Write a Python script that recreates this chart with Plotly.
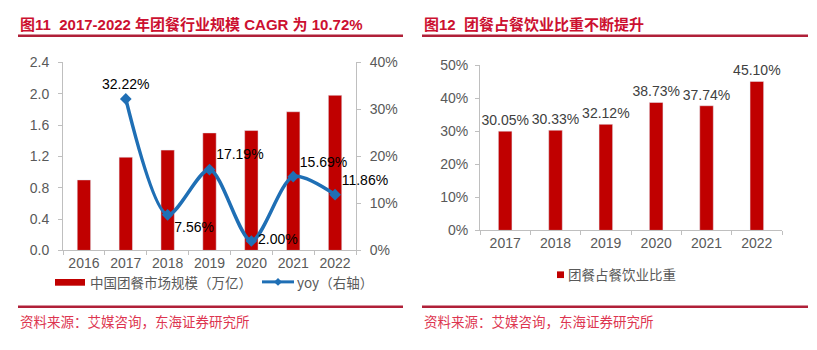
import plotly.graph_objects as go

# ---- Data ----
years_left = ["2016", "2017", "2018", "2019", "2020", "2021", "2022"]
market_size = [0.90, 1.19, 1.28, 1.50, 1.53, 1.77, 1.98]
yoy_years = ["2017", "2018", "2019", "2020", "2021", "2022"]
yoy = [0.3222, 0.0756, 0.1719, 0.0200, 0.1569, 0.1186]
yoy_labels = ["32.22%", "7.56%", "17.19%", "2.00%", "15.69%", "11.86%"]
yoy_textpos = ["top center", "bottom right", "top right", "middle right", "top right", "top right"]

years_right = ["2017", "2018", "2019", "2020", "2021", "2022"]
share = [0.3005, 0.3033, 0.3212, 0.3873, 0.3774, 0.4510]
share_labels = ["30.05%", "30.33%", "32.12%", "38.73%", "37.74%", "45.10%"]

left_ticks = [0, 0.4, 0.8, 1.2, 1.6, 2.0, 2.4]
left_ticktext = ["0.0", "0.4", "0.8", "1.2", "1.6", "2.0", "2.4"]
right_ticks = [0, 0.1, 0.2, 0.3, 0.4]
right_ticktext = ["0%", "10%", "20%", "30%", "40%"]
share_ticks = [0, 0.1, 0.2, 0.3, 0.4, 0.5]
share_ticktext = ["0%", "10%", "20%", "30%", "40%", "50%"]

title_left = "图11  2017-2022 年团餐行业规模 CAGR 为 10.72%"
title_right = "图12  团餐占餐饮业比重不断提升"
source_text = "资料来源：艾媒咨询，东海证券研究所"
legend_bar_left = "中国团餐市场规模（万亿）"
legend_line_left = "yoy（右轴）"
legend_right = "团餐占餐饮业比重"

# ---- Style ----
W, H = 817, 350
FONT = "Liberation Sans, Arial, Noto Sans CJK SC, sans-serif"
CJK = "Noto Sans CJK SC, Liberation Sans, sans-serif"
BAR = "#C00000"
BLUE = "#1F6FB5"
GRAY = "#595959"
AXIS = "#BFBFBF"
TITLE_RED = "#CC1030"
LINE_RED = "#B02038"
SRC_RED = "#DD3550"

def px(x):
    return x / W

def py(y):
    return 1 - y / H

fig = go.Figure()

fig.add_trace(go.Bar(
    x=years_left, y=market_size, marker_color=BAR, width=0.32,
    xaxis="x", yaxis="y", showlegend=False, hoverinfo="skip"))

fig.add_trace(go.Scatter(
    x=yoy_years, y=yoy, mode="lines+markers+text",
    line=dict(color=BLUE, width=3.5, shape="spline", smoothing=0.8),
    marker=dict(symbol="diamond", size=9, color=BLUE),
    text=yoy_labels, textposition=yoy_textpos,
    textfont=dict(family=FONT, size=14, color="#000000"),
    xaxis="x", yaxis="y3", showlegend=False, cliponaxis=False))

fig.add_trace(go.Bar(
    x=years_right, y=share, marker_color=BAR, width=0.27,
    text=share_labels, textposition="outside", constraintext="none",
    textfont=dict(family=FONT, size=14, color="#404040"),
    xaxis="x2", yaxis="y2", showlegend=False, cliponaxis=False))

common_x = dict(type="category", showline=True, linecolor=AXIS, linewidth=1,
                ticks="outside", tickson="boundaries", ticklen=4, tickcolor=AXIS,
                tickfont=dict(family=FONT, size=14, color=GRAY), showgrid=False,
                zeroline=False, fixedrange=True)
common_y = dict(showline=True, linecolor=AXIS, linewidth=1, ticks="outside",
                ticklen=4, tickcolor=AXIS, tickfont=dict(family=FONT, size=14, color=GRAY),
                showgrid=False, zeroline=False, fixedrange=True)

fig.update_layout(
    width=W, height=H, margin=dict(l=0, r=0, t=0, b=0),
    paper_bgcolor="white", plot_bgcolor="white",
    bargap=0.5,
    xaxis=dict(domain=[px(63), px(356)], anchor="y", **common_x),
    yaxis=dict(domain=[py(254), py(57)], range=[0, 2.4], tickvals=left_ticks,
               ticktext=left_ticktext, anchor="x", ticklabelstandoff=6, **common_y),
    yaxis3=dict(range=[0, 0.4], tickvals=right_ticks, ticktext=right_ticktext,
                overlaying="y", side="right", anchor="x", ticklabelstandoff=6, **common_y),
    xaxis2=dict(domain=[px(480), px(782)], anchor="y2", **common_x),
    yaxis2=dict(domain=[py(233), py(60)], range=[0, 0.5], tickvals=share_ticks,
                ticktext=share_ticktext, anchor="x2", ticklabelstandoff=4, **common_y),
)

annotations = []
shapes = []

# Titles
TITLE_FONT = "Liberation Sans, Noto Sans CJK SC, sans-serif"
annotations.append(dict(x=px(18), y=py(17), xref="paper", yref="paper", text="<b>" + title_left + "</b>",
                        showarrow=False, xanchor="left", yanchor="middle",
                        font=dict(family=TITLE_FONT, size=15, color=TITLE_RED)))
annotations.append(dict(x=px(422), y=py(17), xref="paper", yref="paper", text="<b>" + title_right + "</b>",
                        showarrow=False, xanchor="left", yanchor="middle",
                        font=dict(family=TITLE_FONT, size=15, color=TITLE_RED)))
for x0, x1 in [(18, 403), (422, 808)]:
    shapes.append(dict(type="line", xref="paper", yref="paper", x0=px(x0), x1=px(x1),
                       y0=py(29), y1=py(29), line=dict(color=LINE_RED, width=2.5)))
    shapes.append(dict(type="line", xref="paper", yref="paper", x0=px(x0), x1=px(x1),
                       y0=py(313), y1=py(313), line=dict(color=LINE_RED, width=2.5)))
    annotations.append(dict(x=px(x0), y=py(328), xref="paper", yref="paper", text=source_text,
                            showarrow=False, xanchor="left", yanchor="middle",
                            font=dict(family=CJK, size=13.5, color=SRC_RED)))

# Left legend
shapes.append(dict(type="rect", xref="paper", yref="paper", x0=px(55), x1=px(85),
                   y0=py(291), y1=py(284), fillcolor=BAR, line=dict(width=0)))
annotations.append(dict(x=px(88), y=py(287), xref="paper", yref="paper", text=legend_bar_left,
                        showarrow=False, xanchor="left", yanchor="middle",
                        font=dict(family=CJK, size=13.5, color=GRAY)))
shapes.append(dict(type="line", xref="paper", yref="paper", x0=px(262), x1=px(294),
                   y0=py(287), y1=py(287), line=dict(color=BLUE, width=3)))
shapes.append(dict(type="path", xref="paper", yref="paper",
                   path=f"M {px(278)},{py(283)} L {px(282)},{py(287)} L {px(278)},{py(291)} L {px(274)},{py(287)} Z",
                   fillcolor=BLUE, line=dict(width=0)))
annotations.append(dict(x=px(295), y=py(287), xref="paper", yref="paper", text=legend_line_left,
                        showarrow=False, xanchor="left", yanchor="middle",
                        font=dict(family=CJK, size=13.5, color=GRAY)))

# Right legend
shapes.append(dict(type="rect", xref="paper", yref="paper", x0=px(557), x1=px(564),
                   y0=py(283), y1=py(276), fillcolor=BAR, line=dict(width=0)))
annotations.append(dict(x=px(566), y=py(279), xref="paper", yref="paper", text=legend_right,
                        showarrow=False, xanchor="left", yanchor="middle",
                        font=dict(family=CJK, size=13.5, color=GRAY)))

fig.update_layout(annotations=annotations, shapes=shapes)

fig.write_html("out.html")
